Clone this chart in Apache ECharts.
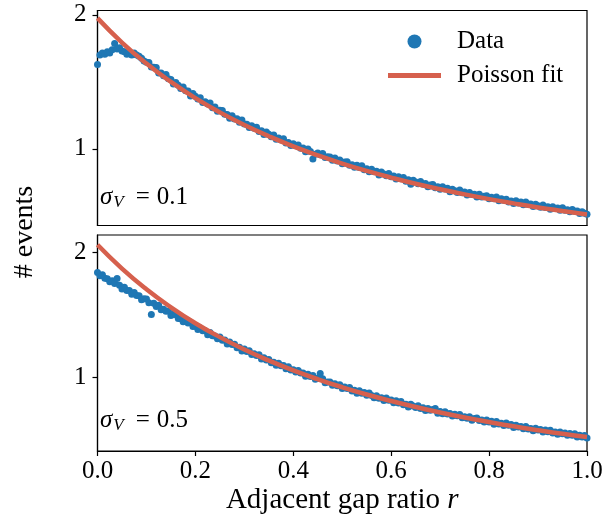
<!DOCTYPE html>
<html>
<head>
<meta charset="utf-8">
<script src="https://cdn.jsdelivr.net/npm/echarts@6/dist/echarts.min.js"></script>
<style>html,body{margin:0;padding:0;background:#fff}#c{width:606px;height:520px}</style>
</head>
<body>
<div id="c"></div>
<script>
// Bin centres of the adjacent gap ratio r
const rBins = [0,0.005,0.01,0.015,0.02,0.025,0.03,0.035,0.04,0.045,
0.05,0.055,0.06,0.065,0.07,0.075,0.08,0.085,0.09,0.095,
0.1,0.105,0.11,0.115,0.12,0.125,0.13,0.135,0.14,0.145,
0.15,0.155,0.16,0.165,0.17,0.175,0.18,0.185,0.19,0.195,
0.2,0.205,0.21,0.215,0.22,0.225,0.23,0.235,0.24,0.245,
0.25,0.255,0.26,0.265,0.27,0.275,0.28,0.285,0.29,0.295,
0.3,0.305,0.31,0.315,0.32,0.325,0.33,0.335,0.34,0.345,
0.35,0.355,0.36,0.365,0.37,0.375,0.38,0.385,0.39,0.395,
0.4,0.405,0.41,0.415,0.42,0.425,0.43,0.435,0.44,0.445,
0.45,0.455,0.46,0.465,0.47,0.475,0.48,0.485,0.49,0.495,
0.5,0.505,0.51,0.515,0.52,0.525,0.53,0.535,0.54,0.545,
0.55,0.555,0.56,0.565,0.57,0.575,0.58,0.585,0.59,0.595,
0.6,0.605,0.61,0.615,0.62,0.625,0.63,0.635,0.64,0.645,
0.65,0.655,0.66,0.665,0.67,0.675,0.68,0.685,0.69,0.695,
0.7,0.705,0.71,0.715,0.72,0.725,0.73,0.735,0.74,0.745,
0.75,0.755,0.76,0.765,0.77,0.775,0.78,0.785,0.79,0.795,
0.8,0.805,0.81,0.815,0.82,0.825,0.83,0.835,0.84,0.845,
0.85,0.855,0.86,0.865,0.87,0.875,0.88,0.885,0.89,0.895,
0.9,0.905,0.91,0.915,0.92,0.925,0.93,0.935,0.94,0.945,
0.95,0.955,0.96,0.965,0.97,0.975,0.98,0.985,0.99,0.995,1.0];

// sigma_V = 0.1 data
const dataSigma01 = [1.630,1.700,1.715,1.705,1.725,1.715,1.740,1.785,1.745,1.755,
1.730,1.725,1.705,1.720,1.700,1.715,1.700,1.690,1.675,1.655,
1.645,1.644,1.611,1.609,1.606,1.565,1.565,1.545,1.555,1.522,
1.518,1.483,1.494,1.474,1.451,1.462,1.433,1.431,1.395,1.413,
1.393,1.372,1.382,1.346,1.351,1.335,1.341,1.306,1.312,1.280,
1.288,1.286,1.258,1.256,1.229,1.246,1.223,1.224,1.198,1.216,
1.185,1.183,1.159,1.173,1.154,1.161,1.130,1.135,1.107,1.125,
1.108,1.091,1.103,1.071,1.081,1.066,1.075,1.044,1.048,1.024,
1.038,1.023,1.028,1.004,1.007,0.979,0.999,0.980,0.925,0.960,
0.969,0.956,0.966,0.936,0.941,0.939,0.914,0.931,0.910,0.916,
0.888,0.902,0.904,0.878,0.881,0.863,0.877,0.861,0.873,0.844,
0.851,0.829,0.847,0.829,0.833,0.805,0.828,0.813,0.799,0.816,
0.792,0.798,0.775,0.792,0.777,0.787,0.759,0.769,0.735,0.766,
0.753,0.740,0.757,0.735,0.742,0.717,0.731,0.734,0.710,0.717,
0.699,0.717,0.700,0.705,0.679,0.699,0.687,0.674,0.692,0.672,
0.678,0.656,0.674,0.660,0.661,0.640,0.662,0.641,0.646,0.650,
0.627,0.639,0.627,0.641,0.612,0.627,0.616,0.624,0.603,0.611,
0.592,0.613,0.595,0.603,0.583,0.603,0.585,0.589,0.569,0.587,
0.576,0.565,0.581,0.562,0.568,0.550,0.568,0.554,0.559,0.541,
0.560,0.541,0.545,0.531,0.547,0.534,0.537,0.518,0.531,0.519,0.512];

// sigma_V = 0.5 data
const dataSigma05 = [1.838,1.813,1.820,1.793,1.789,1.764,1.773,1.751,1.790,1.736,
1.707,1.720,1.696,1.695,1.666,1.679,1.656,1.654,1.621,1.630,
1.627,1.597,1.504,1.593,1.568,1.577,1.542,1.545,1.529,1.531,
1.496,1.506,1.502,1.472,1.470,1.446,1.456,1.436,1.441,1.408,
1.409,1.383,1.396,1.374,1.373,1.342,1.360,1.334,1.331,1.310,
1.323,1.297,1.299,1.269,1.283,1.264,1.267,1.238,1.242,1.212,
1.228,1.209,1.215,1.185,1.191,1.177,1.183,1.149,1.158,1.140,
1.145,1.119,1.123,1.099,1.115,1.095,1.096,1.070,1.086,1.061,
1.062,1.044,1.057,1.036,1.037,1.010,1.026,1.009,1.016,0.987,
0.994,1.033,0.991,0.958,0.965,0.965,0.939,0.950,0.934,0.942,
0.913,0.925,0.912,0.920,0.893,0.899,0.875,0.895,0.875,0.881,
0.858,0.877,0.856,0.840,0.854,0.835,0.839,0.818,0.837,0.819,
0.822,0.800,0.815,0.797,0.810,0.783,0.788,0.766,0.787,0.774,
0.761,0.776,0.754,0.759,0.738,0.753,0.739,0.746,0.753,0.716,
0.729,0.712,0.727,0.709,0.714,0.693,0.708,0.695,0.705,0.679,
0.687,0.675,0.687,0.660,0.674,0.678,0.658,0.661,0.645,0.661,
0.646,0.651,0.627,0.649,0.629,0.635,0.618,0.637,0.620,0.625,
0.602,0.620,0.605,0.610,0.591,0.610,0.589,0.594,0.576,0.596,
0.581,0.586,0.566,0.582,0.567,0.580,0.558,0.566,0.548,0.566,
0.551,0.557,0.539,0.554,0.539,0.551,0.526,0.540,0.526,0.537,0.517];

// Poisson fit curves
const fitR = [0,0.05,0.1,0.15,0.2,0.25,0.3,0.35,0.4,0.45,0.5,0.55,0.6,0.65,0.7,0.75,0.8,0.85,0.9,0.95,1.0];
const fitSigma01 = [1.975,1.793,1.636,1.499,1.378,1.272,1.178,1.094,1.018,0.951,0.890,0.835,0.785,0.739,0.698,0.660,0.625,0.593,0.563,0.536,0.510];
const fitSigma05 = [2.060,1.870,1.705,1.561,1.434,1.323,1.224,1.136,1.057,0.987,0.923,0.865,0.813,0.765,0.721,0.681,0.645,0.611,0.580,0.551,0.525];

const xTicks = [0, 0.2, 0.4, 0.6, 0.8, 1.0];
const yTicks = [1, 2];
const panelLabels = ['0.1', '0.5'];

const FONT = '"Liberation Serif", "DejaVu Serif", serif';
const BLUE = '#1f77b4';
const RED = '#d6604d';

const pairs = (xs, ys) => xs.map((x, i) => [x, ys[i]]);

const chart = echarts.init(document.getElementById('c'), null, {renderer: 'canvas'});

const yAxisBase = (min, max) => ({
  type: 'value', min: min, max: max,
  axisLine: {show: true, lineStyle: {color: '#000', width: 1.2}},
  axisTick: {show: true, customValues: yTicks, length: 5, lineStyle: {color: '#000', width: 1.2}},
  axisLabel: {show: true, customValues: yTicks, margin: 11, color: '#000', fontFamily: FONT, fontSize: 25,
              formatter: v => String(v)},
  splitLine: {show: false}
});

function sigmaLabel(y, val) {
  return {
    type: 'text', left: 100, top: y,
    style: {
      text: '{s|σ}{v|V}{e|=}{n|' + val + '}',
      fill: '#000',
      rich: {
        s: {fontFamily: FONT, fontStyle: 'italic', fontSize: 25, lineHeight: 28, verticalAlign: 'middle'},
        v: {fontFamily: FONT, fontStyle: 'italic', fontSize: 17, lineHeight: 17, verticalAlign: 'bottom', padding: [0, 0, 0, 1]},
        e: {fontFamily: FONT, fontSize: 25, lineHeight: 28, padding: [0, 7, 0, 12]},
        n: {fontFamily: FONT, fontSize: 25, lineHeight: 28}
      }
    }
  };
}

chart.setOption({
  animation: false,
  backgroundColor: '#fff',
  grid: [
    {left: 97.5, right: 19, top: 10.5, height: 215, show: true, borderColor: '#000', borderWidth: 1.2, backgroundColor: 'transparent'},
    {left: 97.5, right: 19, top: 235, height: 216, show: true, borderColor: '#000', borderWidth: 1.2, backgroundColor: 'transparent'}
  ],
  xAxis: [
    {gridIndex: 0, type: 'value', min: 0, max: 1,
     axisLine: {show: true, lineStyle: {color: '#000', width: 1.2}},
     axisTick: {show: false}, axisLabel: {show: false}, splitLine: {show: false}},
    {gridIndex: 1, type: 'value', min: 0, max: 1, interval: 0.2,
     axisLine: {show: true, lineStyle: {color: '#000', width: 1.2}},
     axisTick: {show: true, customValues: xTicks, length: 5, lineStyle: {color: '#000', width: 1.2}},
     axisLabel: {show: true, customValues: xTicks, margin: 8, color: '#000', fontFamily: FONT, fontSize: 25,
                 formatter: v => v.toFixed(1)},
     splitLine: {show: false},
     name: 'Adjacent gap ratio {i|r}', nameLocation: 'middle', nameGap: 35,
     nameTextStyle: {color: '#000', fontFamily: FONT, fontSize: 29,
                     rich: {i: {fontFamily: FONT, fontSize: 29, fontStyle: 'italic', color: '#000'}}}}
  ],
  yAxis: [
    Object.assign({gridIndex: 0}, yAxisBase(0.428, 2.032)),
    Object.assign({gridIndex: 1}, yAxisBase(0.414, 2.138))
  ],
  legend: {
    orient: 'vertical', left: 388, top: 29, padding: 0,
    itemWidth: 53, itemHeight: 14, itemGap: 9,
    textStyle: {color: '#000', fontFamily: FONT, fontSize: 25, padding: [0, 0, 0, 11]},
    data: [{name: 'Data', icon: 'circle'},
           {name: 'Poisson fit', icon: 'path://M0,0L53,0L53,5L0,5Z', itemStyle: {color: RED}}]
  },
  series: [
    {name: 'Data', type: 'scatter', xAxisIndex: 0, yAxisIndex: 0, symbolSize: 7,
     itemStyle: {color: BLUE, opacity: 1}, data: pairs(rBins, dataSigma01), z: 2},
    {name: 'Poisson fit', type: 'line', xAxisIndex: 0, yAxisIndex: 0, symbol: 'none', smooth: true,
     lineStyle: {color: RED, width: 4.5}, itemStyle: {color: RED}, data: pairs(fitR, fitSigma01), z: 3},
    {name: 'Data', type: 'scatter', xAxisIndex: 1, yAxisIndex: 1, symbolSize: 7,
     itemStyle: {color: BLUE, opacity: 1}, data: pairs(rBins, dataSigma05), z: 2},
    {name: 'Poisson fit', type: 'line', xAxisIndex: 1, yAxisIndex: 1, symbol: 'none', smooth: true,
     lineStyle: {color: RED, width: 4.5}, itemStyle: {color: RED}, data: pairs(fitR, fitSigma05), z: 3}
  ],
  graphic: [
    {type: 'text', x: 25, y: 232, rotation: Math.PI / 2,
     style: {text: '# events', fill: '#000', font: '28px ' + FONT, fontFamily: FONT, fontSize: 28,
             align: 'center', verticalAlign: 'middle', textAlign: 'center', textVerticalAlign: 'middle'}},
    sigmaLabel(185, panelLabels[0]),
    sigmaLabel(408, panelLabels[1])
  ]
});
</script>
</body>
</html>
